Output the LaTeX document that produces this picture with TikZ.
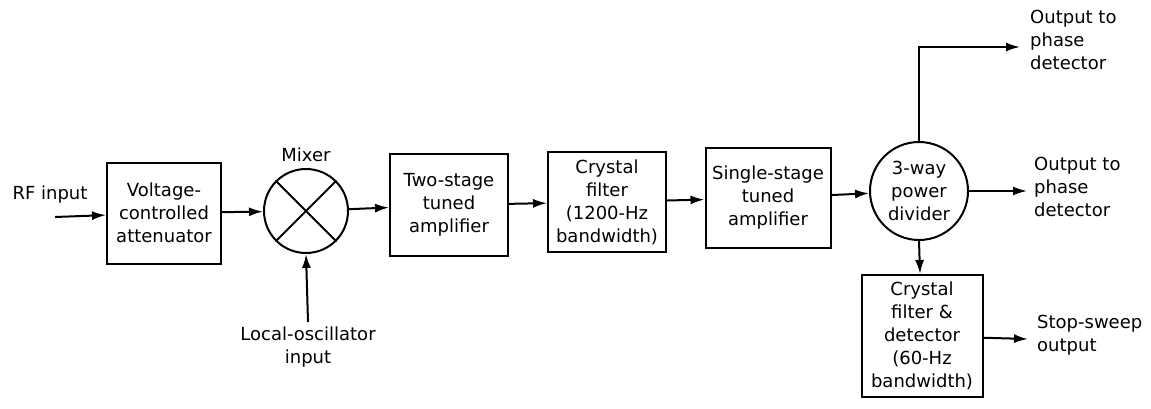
\documentclass[tikz,border=0pt]{standalone}
\usepackage{fontspec}
\setmainfont{DejaVu Sans}
\usetikzlibrary{arrows.meta,positioning}
\tikzset{
  txt/.style={font=\fontsize{18}{23}\selectfont,align=center,inner sep=0pt},
  blk/.style={
    draw,line width=2pt,rectangle,txt,
    minimum width=118pt,minimum height=101pt
  },
  junc/.style={draw,line width=2pt,circle,txt},
  sig/.style={-{Latex[length=14pt,width=9pt]},line width=2pt}
}
\begin{document}
\begin{tikzpicture}[x=1pt,y=-1pt]
\useasboundingbox (0,0) rectangle (1151,409);

\node[blk,minimum width=114pt] (att) at (164,213) {Voltage-\\controlled\\attenuator};
\node[junc,minimum size=84pt] (mix) at (306,211) {};
\node[txt,above=6pt of mix] (mixlabel) {Mixer};
\node[blk] (amp2) at (449,205) {Two-stage\\tuned\\amplifier};
\node[blk,minimum height=100pt] (xtal) at (607,202) {Crystal\\filter\\(1200-Hz\\bandwidth)};
\node[blk,minimum width=125pt,minimum height=100pt] (amp1) at (768,198) {Single-stage\\tuned\\amplifier};
\node[junc,minimum size=98pt] (div) at (919,191) {3-way\\power\\divider};
\node[blk,minimum width=121pt,minimum height=122pt] (det) at (922,336) {Crystal\\filter \&\\detector\\(60-Hz\\bandwidth)};

% mixer cross
\draw[line width=2pt] (mix.45) -- (mix.225) (mix.135) -- (mix.315);

% inputs
\coordinate (rfin) at (55,217);
\node[txt] (rflabel) at (50,195) {RF input};
\coordinate (lo) at (308,322);
\node[txt,below=5pt of lo] (lolabel) {Local-oscillator\\input};

% outputs
\coordinate (out1) at (1020,47);
\coordinate (out2) at (1027,191);
\coordinate (out3) at (1028,339);
\node[txt,align=left,anchor=west] (out1label) at (1030,40) {Output to\\phase\\detector};
\node[txt,align=left,anchor=west] (out2label) at (1034,187) {Output to\\phase\\detector};
\node[txt,align=left,anchor=west] (out3label) at (1037,335) {Stop-sweep\\output};

\draw[sig] (rfin) -- (att);
\draw[sig] (att) -- (mix);
\draw[sig] (lo) -- (mix.south);
\draw[sig] (mix) -- (amp2);
\draw[sig] (amp2) -- (xtal);
\draw[sig] (xtal) -- (amp1);
\draw[sig] (amp1) -- (div);
\draw[sig] (div.north) |- (out1);
\draw[sig] (div) -- (out2);
\draw[sig] (div.south) -- (det);
\draw[sig] (det) -- (out3);

\end{tikzpicture}
\end{document}
